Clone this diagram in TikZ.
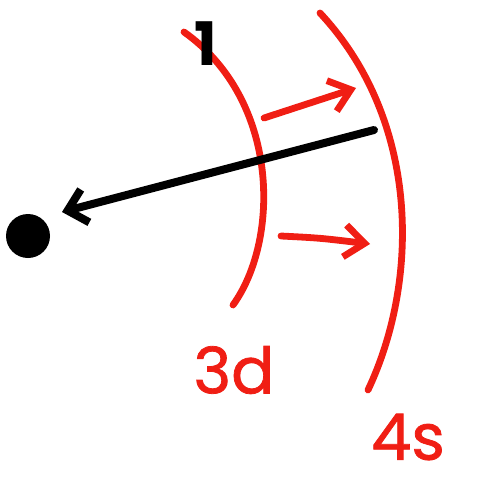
\documentclass[tikz,border=0pt]{standalone}
\usepackage{fontspec}
\setmainfont{Poppins}
\newfontfamily\labelfont[FakeBold=1.2]{Poppins}
\usetikzlibrary{arrows.meta}
\definecolor{sred}{RGB}{240,30,20}
\tikzset{
  redline/.style={draw=sred, line width=3.4pt, line cap=round},
  redarrow/.style={draw=sred, line width=3.4pt, line cap=round, -{Straight Barb[length=10pt,width=16pt,line width=3.4pt]}},
  blackarrow/.style={draw=black, line width=4pt, line cap=round, -{Straight Barb[length=9pt,width=17pt,line width=4pt]}},
  redlabel/.style={text=sred, font=\labelfont\fontsize{32}{32}\selectfont, inner sep=0pt},
}
\begin{document}
\begin{tikzpicture}[x=0.5pt,y=-0.5pt]
\useasboundingbox (0,0) rectangle (479,481);
% arcs
\coordinate (a1) at (184,32);
\coordinate (a2) at (233,305);
\coordinate (b1) at (320,13);
\coordinate (b2) at (368,390);
\draw[redline] (a1) .. controls (280,100) and (280,240) .. (a2);
\draw[redline] (b1) .. controls (420,120) and (420,280) .. (b2);
% red arrows
\coordinate (r1s) at (264,118);
\coordinate (r1e) at (356,88);
\coordinate (r2s) at (281,236);
\coordinate (r2e) at (370,244);
\draw[redarrow] (r1s) -- (r1e);
\draw[redarrow] (r2s) .. controls (320,238) .. (r2e);
% dot and black arrow
\node[circle, fill=black, minimum size=22pt, inner sep=0pt] (dot) at (28,236) {};
\coordinate (k1) at (374,130);
\coordinate (k2) at (62,212);
\draw[blackarrow] (k1) -- (k2);
% labels
\node[text=black, font=\bfseries\fontsize{30}{30}\selectfont, inner sep=0pt] (one) at (206,44) {1};
\node[redlabel] (d3) at (234,370) {3d};
\node[redlabel] (s4) at (408,437) {4s};
\end{tikzpicture}
\end{document}
